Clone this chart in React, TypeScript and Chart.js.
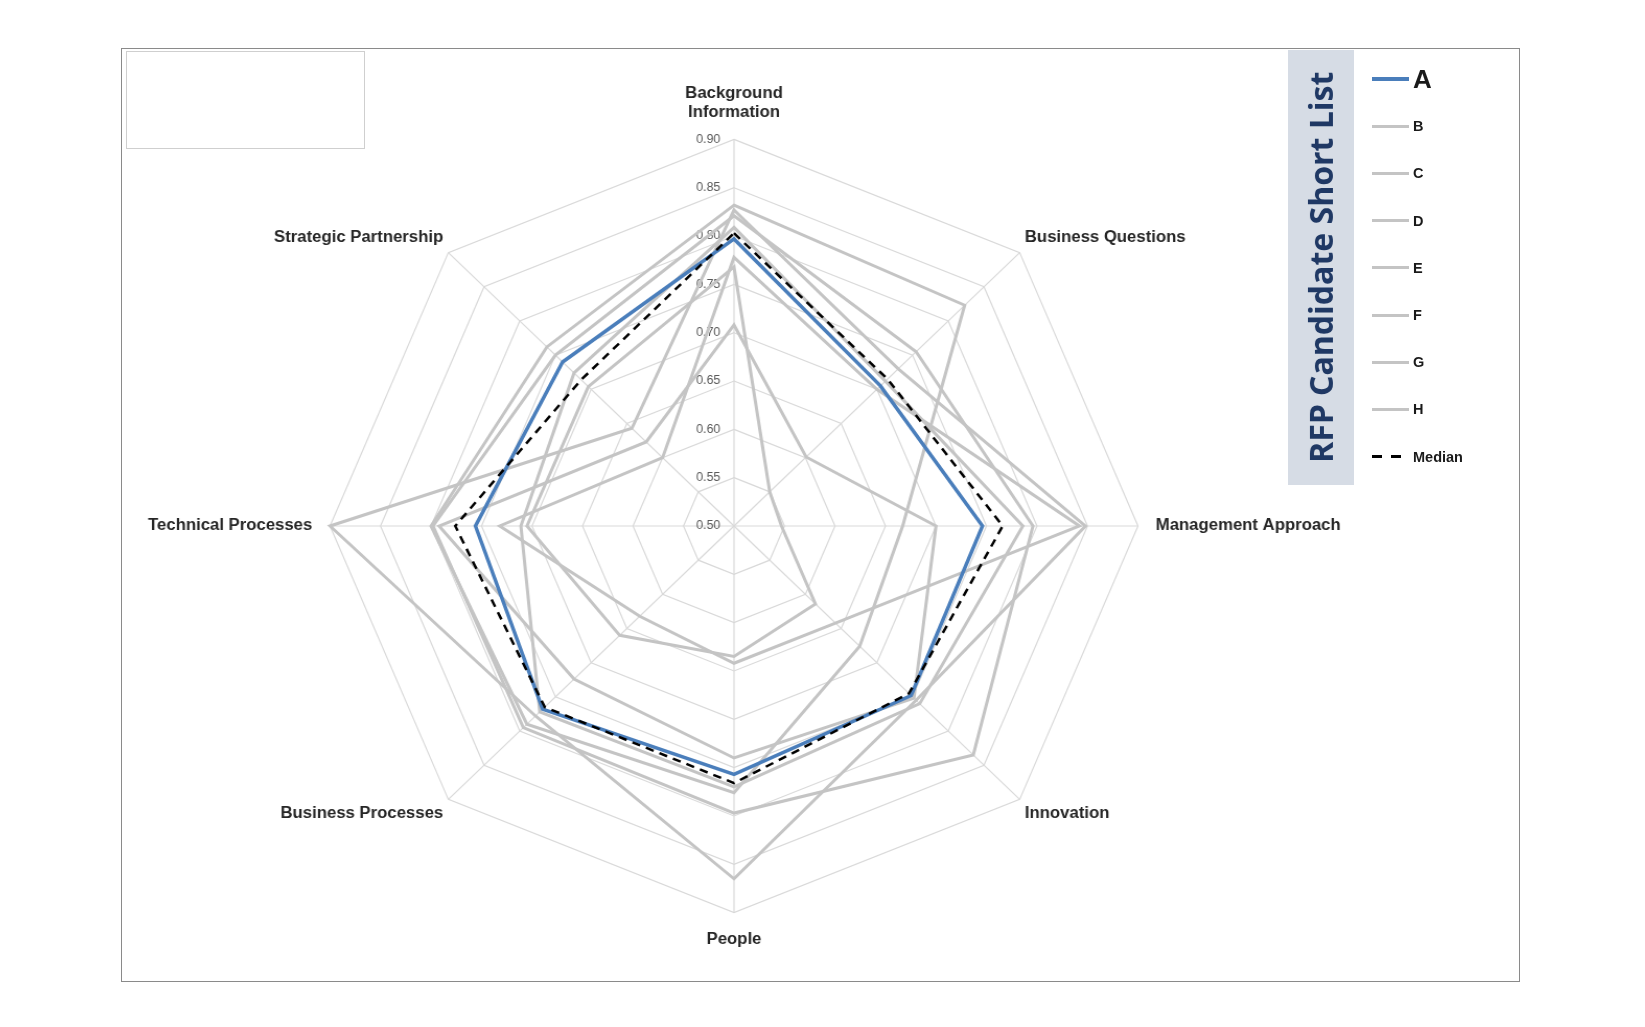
import { useEffect, useRef } from "react";
import { Chart, registerables } from "chart.js";

Chart.register(...registerables);

// axes of the radar, clockwise from the top
const AXIS_LABELS: (string | string[])[] = [
  ["Background", "Information"],
  "Business Questions",
  "Management Approach",
  "Innovation",
  "People",
  "Business Processes",
  "Technical Processes",
  "Strategic Partnership",
];

const TICK_LABELS = ["0.50", "0.55", "0.60", "0.65", "0.70", "0.75", "0.80", "0.85", "0.90"];

const SERIES_NAMES = ["A", "B", "C", "D", "E", "F", "G", "H"];

// scores per axis
const A_VALUES = [0.797, 0.705, 0.746, 0.748, 0.757, 0.768, 0.756, 0.74];
const B_VALUES = [0.832, 0.823, 0.667, 0.676, 0.776, 0.79, 0.8, 0.762];
const C_VALUES = [0.821, 0.755, 0.796, 0.835, 0.797, 0.795, 0.798, 0.75];
const D_VALUES = [0.827, 0.73, 0.848, 0.755, 0.865, 0.778, 0.9, 0.643];
const E_VALUES = [0.809, 0.712, 0.786, 0.76, 0.77, 0.772, 0.711, 0.724];
const F_VALUES = [0.708, 0.601, 0.7, 0.752, 0.74, 0.724, 0.792, 0.623];
const G_VALUES = [0.768, 0.55, 0.547, 0.614, 0.635, 0.66, 0.705, 0.704];
const H_VALUES = [0.778, 0.7, 0.842, 0.642, 0.642, 0.632, 0.732, 0.6];
const MEDIAN_VALUES = [0.803, 0.715, 0.766, 0.745, 0.766, 0.765, 0.776, 0.714];

const SERIES_VALUES = [A_VALUES, B_VALUES, C_VALUES, D_VALUES, E_VALUES, F_VALUES, G_VALUES, H_VALUES];

const BLUE = "#4a7ebb";
const GREY = "#c4c4c4";
const LABEL_FONT = "'Liberation Sans', Arial, sans-serif";

// radial tick labels sit right-aligned just left of the vertical axis
const tickLabelPlugin = {
  id: "tickLabels",
  beforeDatasetsDraw(chart: any) {
    const scale = chart.scales.r;
    const ctx = chart.ctx;
    ctx.save();
    ctx.font = `12px ${LABEL_FONT}`;
    ctx.fillStyle = "#595959";
    ctx.textAlign = "right";
    ctx.textBaseline = "middle";
    TICK_LABELS.forEach((label) => {
      const y = scale.yCenter - scale.getDistanceFromCenterForValue(Number(label));
      ctx.fillText(label, scale.xCenter - 13, y);
    });
    ctx.restore();
  },
};

function RadarChart() {
  const canvasRef = useRef<HTMLCanvasElement | null>(null);

  useEffect(() => {
    const canvas = canvasRef.current;
    if (!canvas) return;

    const datasets: any[] = SERIES_VALUES.map((values, i) => ({
      label: SERIES_NAMES[i],
      data: values,
      borderColor: i === 0 ? BLUE : GREY,
      borderWidth: i === 0 ? 3.5 : 3,
      order: i === 0 ? 1 : 2,
    }));
    datasets.push({
      label: "Median",
      data: MEDIAN_VALUES,
      borderColor: "#000000",
      borderWidth: 2.5,
      borderDash: [8, 6],
      order: 0,
    });

    const chart = new Chart(canvas, {
      type: "radar",
      data: {
        labels: AXIS_LABELS,
        datasets: datasets.map((d) => ({
          ...d,
          fill: false,
          pointRadius: 0,
          pointHoverRadius: 0,
          tension: 0,
        })),
      },
      options: {
        responsive: true,
        maintainAspectRatio: false,
        animation: false,
        plugins: {
          legend: { display: false },
          tooltip: { enabled: false },
        },
        scales: {
          r: {
            min: Number(TICK_LABELS[0]),
            max: Number(TICK_LABELS[TICK_LABELS.length - 1]),
            ticks: { display: false, stepSize: 0.05 },
            grid: { color: "#d9d9d9", lineWidth: 1.2 },
            angleLines: { color: "#d9d9d9", lineWidth: 1.2 },
            pointLabels: {
              color: "#262626",
              padding: (ctx: any) => (ctx.index % 2 === 0 ? 17 : 7),
              font: { family: LABEL_FONT, size: 16, weight: "bold" },
            },
          },
        },
      },
      plugins: [tickLabelPlugin],
    });

    return () => {
      chart.destroy();
    };
  }, []);

  return (
    <div
      style={{
        position: "absolute",
        left: 84,
        top: 75,
        width: 1300,
        height: 884,
        transform: "scaleX(1.045)",
        transformOrigin: "650px 451px",
      }}
    >
      <canvas ref={canvasRef} />
    </div>
  );
}

function Legend() {
  const rowTop = 79;
  const rowStep = 47.2;
  return (
    <>
      <div
        style={{
          position: "absolute",
          left: 1288,
          top: 50,
          width: 66,
          height: 435,
          background: "#d6dce5",
          display: "flex",
          alignItems: "center",
          justifyContent: "center",
          writingMode: "vertical-rl",
          transform: "rotate(180deg)",
          color: "#1f3864",
          fontFamily: "'Open Sans', sans-serif",
          fontWeight: 700,
          fontSize: 32,
          whiteSpace: "nowrap",
          zIndex: 2,
        }}
      >
        RFP Candidate Short List
      </div>
      {[...SERIES_NAMES, "Median"].map((name, i) => {
        const y = rowTop + i * rowStep;
        const isA = i === 0;
        const isMedian = name === "Median";
        return (
          <div key={name} style={{ position: "absolute", left: 1372, top: y - 15, height: 30, zIndex: 2 }}>
            {isMedian ? (
              [0, 19].map((dx) => (
                <div
                  key={dx}
                  style={{ position: "absolute", left: dx, top: 13.5, width: 10, height: 3, background: "#000" }}
                />
              ))
            ) : (
              <div
                style={{
                  position: "absolute",
                  left: 0,
                  top: 15 - (isA ? 2 : 1.5),
                  width: 37,
                  height: isA ? 4 : 3,
                  background: isA ? BLUE : GREY,
                }}
              />
            )}
            <div
              style={{
                position: "absolute",
                left: isMedian ? 41 : 41,
                top: 0,
                height: 30,
                lineHeight: "30px",
                fontFamily: LABEL_FONT,
                fontWeight: 700,
                fontSize: isA ? 26 : 14.5,
                color: "#1a1a1a",
                whiteSpace: "nowrap",
              }}
            >
              {name}
            </div>
          </div>
        );
      })}
    </>
  );
}

export default function App() {
  return (
    <div style={{ position: "absolute", left: 0, top: 0, width: 1645, height: 1027, background: "#fff", overflow: "hidden" }}>
      <div
        style={{
          position: "absolute",
          left: 121,
          top: 48,
          width: 1399,
          height: 934,
          boxSizing: "border-box",
          border: "1px solid #8a8a8a",
        }}
      />
      <div
        style={{
          position: "absolute",
          left: 126,
          top: 51,
          width: 239,
          height: 98,
          boxSizing: "border-box",
          border: "1px solid #cfcfcf",
        }}
      />
      <RadarChart />
      <Legend />
    </div>
  );
}
